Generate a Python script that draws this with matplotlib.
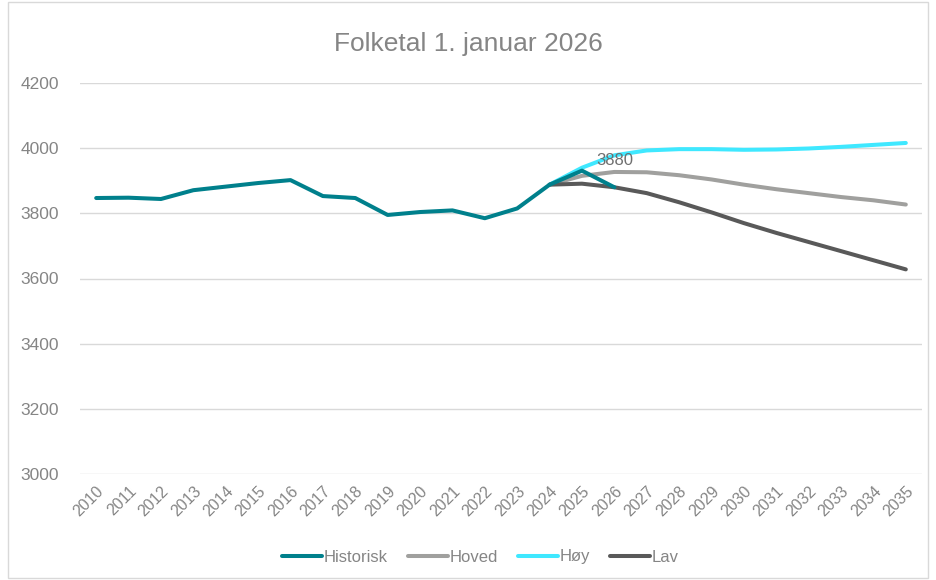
import matplotlib.pyplot as plt
from matplotlib.patches import Rectangle

years = list(range(2010, 2036))
hist_years = list(range(2010, 2027))
historisk = [3847, 3848, 3844, 3871, 3882, 3893, 3902, 3853, 3847, 3795,
             3804, 3809, 3785, 3815, 3888, 3931, 3880]
proj_years = list(range(2024, 2036))
hoved = [3888, 3915, 3927, 3926, 3917, 3904, 3888, 3874, 3862, 3850, 3840, 3827]
hoy = [3888, 3940, 3978, 3993, 3997, 3997, 3995, 3996, 3999, 4004, 4010, 4016]
lav = [3888, 3891, 3880, 3862, 3834, 3803, 3770, 3740, 3712, 3684, 3656, 3628]

grey_txt = '#858585'
plt.rcParams['font.family'] = ['Liberation Sans', 'DejaVu Sans']

fig = plt.figure(figsize=(9.36, 5.8), dpi=100)
ax = fig.add_axes([80/936, 1 - 474/580, (922 - 80)/936, (474 - 83)/580])

lw = 2.9
ax.plot(hist_years, historisk, color='#00808c', lw=lw, solid_capstyle='round', label='Historisk', zorder=4)
ax.plot(proj_years, hoved, color='#a0a09e', lw=lw, solid_capstyle='round', label='Hoved', zorder=3)
ax.plot(proj_years, hoy, color='#3fe8ff', lw=lw, solid_capstyle='round', label='Høy', zorder=3)
ax.plot(proj_years, lav, color='#595959', lw=lw, solid_capstyle='round', label='Lav', zorder=3)

ax.annotate(str(historisk[-1]), (hist_years[-1], historisk[-1]), xytext=(0, 14),
            textcoords='offset points', ha='center', va='bottom',
            color='#6f6f6f', fontsize=12, zorder=5)

ax.set_xlim(2009.5, 2035.5)
ax.set_ylim(3000, 4200)
ax.set_xticks(years)
ax.set_xticklabels([str(y) for y in years], rotation=45, ha='right',
                   rotation_mode='anchor', color=grey_txt, fontsize=11.5)
ax.set_yticks(range(3000, 4201, 200))
ax.tick_params(axis='y', colors=grey_txt, labelsize=12.5, length=0, pad=15)
ax.tick_params(axis='x', length=0, pad=7)
ax.grid(axis='y', color='#d9d9d9', lw=1)
ax.set_axisbelow(True)
for s in ax.spines.values():
    s.set_visible(False)

fig.text(0.5, 1 - 44/580, 'Folketal 1. januar 2026', ha='center', va='center',
         fontsize=19, color=grey_txt)

fig.legend(loc='center', bbox_to_anchor=(0.513, 1 - 557/580), ncol=4, frameon=False,
           fontsize=12, labelcolor=grey_txt, handlelength=2.4, handletextpad=0.1,
           columnspacing=1.2)

fig.patches.append(Rectangle((8/936, 2/580), 1 - 16/936, 1 - 4/580, transform=fig.transFigure,
                             fill=False, edgecolor='#d9d9d9', lw=1))

fig.savefig('out.png', dpi=100)
